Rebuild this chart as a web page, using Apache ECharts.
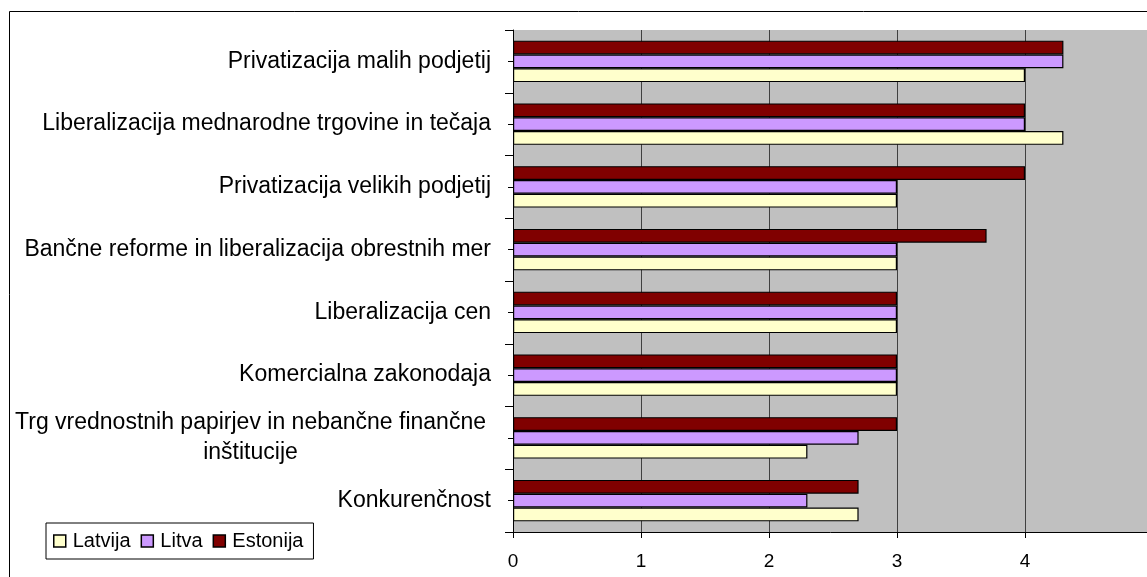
<!DOCTYPE html>
<html>
<head>
<meta charset="utf-8">
<script src="https://cdn.jsdelivr.net/npm/echarts@6/dist/echarts.min.js"></script>
<style>
  html, body { margin: 0; padding: 0; background: #fff; }
  #chart { width: 1147px; height: 577px; }
</style>
</head>
<body>
<div id="chart"></div>
<script>
// categories, bottom to top (as drawn)
var categories = [
  'Konkurenčnost',
  'Trg vrednostnih papirjev in nebančne finančne\ninštitucije',
  'Komercialna zakonodaja',
  'Liberalizacija cen',
  'Bančne reforme in liberalizacija obrestnih mer',
  'Privatizacija velikih podjetij',
  'Liberalizacija mednarodne trgovine in tečaja',
  'Privatizacija malih podjetij'
]
var latvija  = [2.7, 2.3, 3, 3, 3, 3, 4.3, 4.0]
var litva    = [2.3, 2.7, 3, 3, 3, 3, 4.0, 4.3]
var estonija = [2.7, 3.0, 3, 3, 3.7, 4.0, 4.0, 4.3]
var xTicks = [0, 1, 2, 3, 4, 5]

var chart = echarts.init(document.getElementById('chart'))

function barSeries(name, color, data) {
  return {
    name: name,
    type: 'bar',
    data: data,
    barGap: '0%',
    barCategoryGap: '34%',
    itemStyle: { color: color, borderColor: '#000', borderWidth: 1.2 },
    animation: false
  }
}

chart.setOption({
  textStyle: { fontFamily: 'Liberation Sans, Arial, sans-serif' },
  // outer chart frame
  graphic: [{
    type: 'rect',
    shape: { x: 9.5, y: 11.5, width: 1200, height: 600 },
    style: { fill: 'none', stroke: '#000', lineWidth: 1 },
    silent: true
  }],
  grid: {
    left: 513, top: 30, width: 640, height: 502,
    outerBoundsMode: 'none',
    show: true, backgroundColor: '#C0C0C0', borderWidth: 0
  },
  legend: {
    left: 46, top: 523,
    data: ['Latvija', 'Litva', 'Estonija'],
    icon: 'rect',
    itemWidth: 12, itemHeight: 12, itemGap: 10,
    padding: [8, 10, 8, 7],
    borderColor: '#000', borderWidth: 1,
    backgroundColor: '#fff',
    textStyle: { fontSize: 20, color: '#000', padding: [0, 0, 0, 2] },
    itemStyle: { borderColor: '#000', borderWidth: 1.5 }
  },
  xAxis: {
    type: 'value',
    min: xTicks[0], max: xTicks[xTicks.length - 1], interval: 1,
    axisLine: { show: true, lineStyle: { color: '#000', width: 1 } },
    axisTick: { show: true, length: 6, lineStyle: { color: '#000' } },
    axisLabel: { fontSize: 19, color: '#000', margin: 20 },
    splitLine: { show: true, lineStyle: { color: '#404040', width: 1 } }
  },
  yAxis: [{
    type: 'category',
    data: categories,
    axisLine: { show: true, lineStyle: { color: '#000', width: 1 } },
    axisTick: { show: true, length: 8, lineStyle: { color: '#000' } },
    axisLabel: {
      fontSize: 23, color: '#000', margin: 22,
      formatter: function (v) {
        if (v.indexOf('\n') >= 0) return '{c|' + v + '}'
        return v
      },
      rich: { c: { fontSize: 23, width: 481, align: 'center', lineHeight: 30 } }
    }
  }, {
    type: 'category',
    data: categories,
    position: 'left',
    axisLine: { show: false },
    axisTick: { show: true, alignWithLabel: true, length: 5, lineStyle: { color: '#000' } },
    axisLabel: { show: false }
  }],
  // Estonija listed first so it sits on top of each group
  series: [
    barSeries('Estonija', '#800000', estonija),
    barSeries('Litva', '#CC99FF', litva),
    barSeries('Latvija', '#FFFFCC', latvija)
  ]
})
</script>
</body>
</html>
